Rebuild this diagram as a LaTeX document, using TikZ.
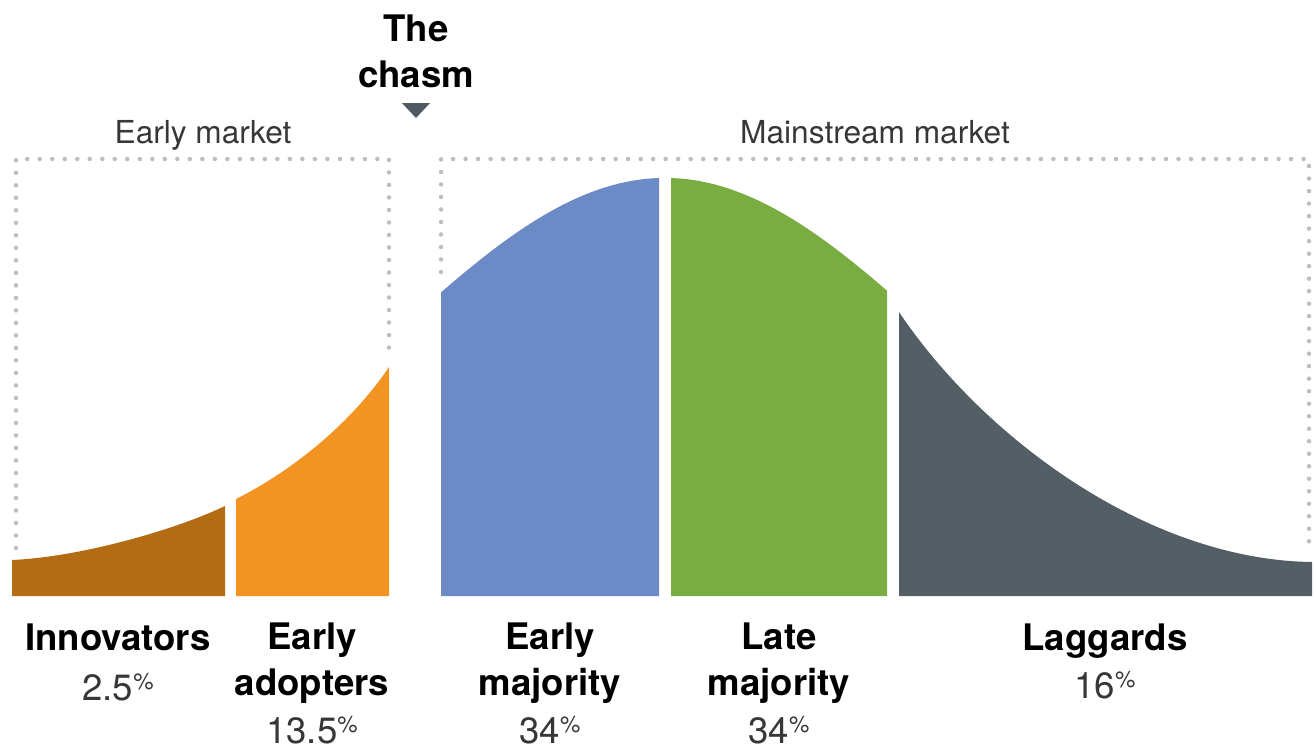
\documentclass[tikz,border=0pt]{standalone}
\usepackage{fontspec}
\setmainfont{TeX Gyre Heros}
\usepackage{xcolor}

\definecolor{innovbrown}{RGB}{179,108,20}
\definecolor{adoptorange}{RGB}{243,147,33}
\definecolor{earlyblue}{RGB}{108,138,198}
\definecolor{lategreen}{RGB}{121,172,65}
\definecolor{laggardgray}{RGB}{83,94,101}
\definecolor{chasmgray}{RGB}{79,90,97}
\definecolor{dotgray}{RGB}{190,190,190}
\definecolor{textgray}{RGB}{55,55,55}

\newcommand{\pct}{\raisebox{3pt}{\fontsize{6.5}{6.5}\selectfont\%}}

\begin{document}
\begin{tikzpicture}[x=0.01cm, y=-0.01cm,
    seglabel/.style={font=\bfseries\fontsize{10.4}{12.8}\selectfont, align=center, anchor=base, inner sep=0pt},
    segpct/.style={font=\fontsize{10.4}{12.8}\selectfont, text=textgray, anchor=base, inner sep=0pt},
    marketlabel/.style={font=\fontsize{9}{11}\selectfont, text=textgray, anchor=base, inner sep=0pt},
    boxline/.style={draw=dotgray, line width=0.045cm, line cap=round, dash pattern=on 0pt off 0.125cm}]
    \useasboundingbox (0,0) rectangle (1314,748);

    % Market boxes (dotted)
    \draw[boxline] (16,548) -- (16,159) -- (389,159) -- (389,350);
    \draw[boxline] (441,272) -- (441,159) -- (1309,159) -- (1309,543);
    \node[marketlabel] (early) at (203,143) {Early market};
    \node[marketlabel] (mainstream) at (875,143) {Mainstream market};

    % The chasm
    \node[seglabel] (chasm) at (416,87) {The\\chasm};
    \fill[chasmgray] (402,103) -- (430,103) -- (416,118) -- cycle;

    % Segments of the curve
    \fill[innovbrown] (12,596) -- (12,560) .. controls (80,557) and (175,530) .. (225,506) -- (225,596) -- cycle;
    \fill[adoptorange] (236,596) -- (236,499) .. controls (290,472) and (350,425) .. (389,367) -- (389,596) -- cycle;
    \fill[earlyblue] (441,596) -- plot[domain=441:659, samples=40] (\x, {596-418*exp(-0.5*((\x-665)/280)^2)}) -- (659,596) -- cycle;
    \fill[lategreen] (671,596) -- plot[domain=671:887, samples=40] (\x, {596-418*exp(-0.5*((\x-665)/280)^2)}) -- (887,596) -- cycle;
    \fill[laggardgray] (899,596) -- (899,312) .. controls (985,440) and (1150,560) .. (1312,562) -- (1312,596) -- cycle;

    % Segment labels (base = last line)
    \node[seglabel] (innovators) at (118,650) {Innovators};
    \node[segpct] (innovatorspct) at (118,700) {2.5\pct};
    \node[seglabel] (adopters) at (312,695) {Early\\adopters};
    \node[segpct] (adopterspct) at (312,743) {13.5\pct};
    \node[seglabel] (earlymaj) at (550,695) {Early\\majority};
    \node[segpct] (earlymajpct) at (550,743) {34\pct};
    \node[seglabel] (latemaj) at (779,695) {Late\\majority};
    \node[segpct] (latemajpct) at (779,743) {34\pct};
    \node[seglabel] (laggards) at (1105,650) {Laggards};
    \node[segpct] (laggardspct) at (1105,698) {16\pct};
\end{tikzpicture}
\end{document}
